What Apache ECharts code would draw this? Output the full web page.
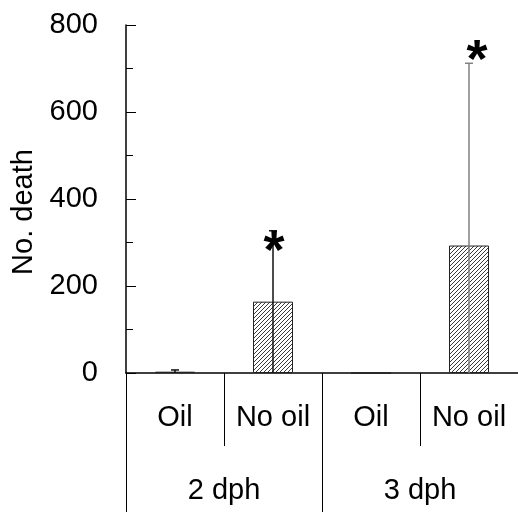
<!DOCTYPE html>
<html>
<head>
<meta charset="utf-8">
<script src="https://cdn.jsdelivr.net/npm/echarts@6/dist/echarts.min.js"></script>
<style>html,body{margin:0;padding:0;background:#fff;}#c{width:518px;height:512px;}</style>
</head>
<body>
<div id="c"></div>
<script>
var categories = ['Oil', 'No oil', 'Oil', 'No oil'];
var groups = ['2 dph', '3 dph'];
var means = [3, 164, 0, 293];
var sd = [4, 163, 0, 419];
var sigY = [null, 299, null, 738];
var yTicks = [0, 200, 400, 600, 800];

var FONT = '"Liberation Sans", Arial, sans-serif';

function hatch() {
  var s = 4;
  var cv = document.createElement('canvas');
  cv.width = s; cv.height = s;
  var ctx = cv.getContext('2d');
  ctx.fillStyle = '#ffffff';
  ctx.fillRect(0, 0, s, s);
  ctx.strokeStyle = '#3a3a3a';
  ctx.lineWidth = 1;
  ctx.beginPath();
  ctx.moveTo(-1, s + 1); ctx.lineTo(s + 1, -1);
  ctx.moveTo(-1, 1); ctx.lineTo(1, -1);
  ctx.moveTo(s - 1, s + 1); ctx.lineTo(s + 1, s - 1);
  ctx.stroke();
  return cv;
}

var chart = echarts.init(document.getElementById('c'), null, {renderer: 'canvas'});
var errData = means.map(function (m, i) {
  return [i, Math.max(0, m - sd[i]), m + sd[i]];
}).filter(function (d, i) { return sd[i] > 0; });
var sigData = sigY.map(function (v, i) { return v == null ? null : [i, v]; }).filter(function (d) { return d; });

chart.setOption({
  animation: false,
  backgroundColor: '#ffffff',
  grid: {left: 126, right: 0, top: 25, bottom: 139, containLabel: false, outerBoundsMode: 'none'},
  xAxis: [{
    type: 'category',
    data: categories,
    position: 'bottom',
    axisLine: {show: true, lineStyle: {color: '#000', width: 1.5}},
    axisTick: {show: true, interval: 0, length: 73, lineStyle: {color: '#000', width: 1}},
    axisLabel: {interval: 0, margin: 30, fontSize: 29, fontFamily: FONT, color: '#000'},
    splitLine: {show: false}
  }, {
    type: 'category',
    data: groups,
    position: 'bottom',
    gridIndex: 0,
    axisLine: {show: false},
    axisTick: {show: true, interval: 0, length: 139, lineStyle: {color: '#000', width: 1}},
    axisLabel: {interval: 0, margin: 103, fontSize: 29, fontFamily: FONT, color: '#000'},
    splitLine: {show: false}
  }],
  yAxis: {
    type: 'value',
    min: 0, max: 800, interval: 200,
    name: 'No. death',
    nameLocation: 'middle',
    nameGap: 87,
    nameTextStyle: {fontSize: 29, fontFamily: FONT, color: '#000', padding: [0, 26, 0, 0]},
    axisLine: {show: true, lineStyle: {color: '#000', width: 1.5}},
    axisTick: {show: true, inside: true, length: 10, lineStyle: {color: '#000'}},
    minorTick: {show: true, splitNumber: 2, length: 7, lineStyle: {color: '#000'}},
    axisLabel: {margin: 28, fontSize: 29, fontFamily: FONT, color: '#000',
      formatter: function (v) { return yTicks.indexOf(v) >= 0 ? String(v) : ''; }},
    splitLine: {show: false}
  },
  series: [{
    type: 'bar',
    xAxisIndex: 0,
    data: means,
    barWidth: 40,
    itemStyle: {color: {image: hatch(), repeat: 'repeat'}, borderColor: '#222', borderWidth: 1}
  }, {
    type: 'custom',
    xAxisIndex: 0,
    data: errData,
    z: 5,
    renderItem: function (params, api) {
      var lo = api.coord([api.value(0), api.value(1)]);
      var hi = api.coord([api.value(0), api.value(2)]);
      var col = api.value(0) >= 2 ? '#808080' : '#111';
      var hw = 4;
      return {type: 'group', children: [
        {type: 'line', shape: {x1: lo[0], y1: lo[1], x2: hi[0], y2: hi[1]}, style: {stroke: col, lineWidth: 1.5}},
        {type: 'line', shape: {x1: hi[0] - hw, y1: hi[1], x2: hi[0] + hw, y2: hi[1]}, style: {stroke: col, lineWidth: 1.5}}
      ]};
    }
  }, {
    type: 'custom',
    xAxisIndex: 0,
    data: sigData,
    z: 6,
    renderItem: function (params, api) {
      var p = api.coord([api.value(0), api.value(1)]);
      var dx = api.value(0) >= 2 ? 8 : 1;
      return {type: 'text', x: p[0] + dx, y: p[1] + 10,
        style: {text: '*', fontSize: 54, fontFamily: FONT, fontWeight: 'bold', fill: '#000', align: 'center', verticalAlign: 'middle'}};
    }
  }]
});
</script>
</body>
</html>
